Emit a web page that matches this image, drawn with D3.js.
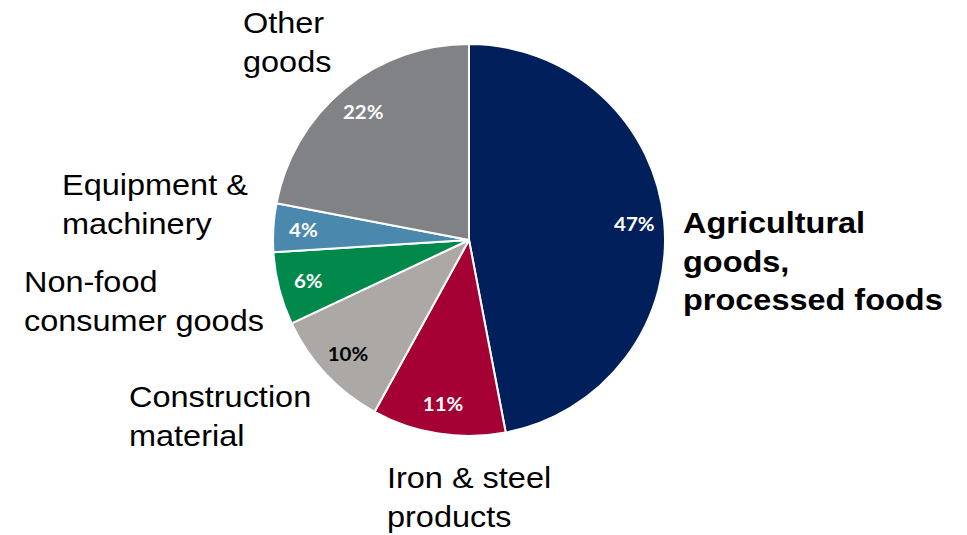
<!DOCTYPE html>
<html>
<head>
<meta charset="utf-8">
<script src="https://cdn.jsdelivr.net/npm/d3@7"></script>
<style>
  html, body { margin: 0; padding: 0; background: #fff; }
</style>
</head>
<body>
<div id="main-container"></div>
<script>
const WIDTH = 967
const HEIGHT = 535
const CX = 469
const CY = 240
const RADIUS = 196
const LABEL_RADIUS = 166
const LINE_HEIGHT = 38.7
const STRETCH = 1.12

// Data (clockwise from 12 o'clock)
const CATEGORIES = [
    'Agricultural goods, processed foods',
    'Iron & steel products',
    'Construction material',
    'Non-food consumer goods',
    'Equipment & machinery',
    'Other goods'
]
const SHARES = [47, 11, 10, 6, 4, 22]
const LABEL_LINES = [
    ['Agricultural', 'goods,', 'processed foods'],
    ['Iron & steel', 'products'],
    ['Construction', 'material'],
    ['Non-food', 'consumer goods'],
    ['Equipment &', 'machinery'],
    ['Other', 'goods']
]
const COLORS = ['#001f5b', '#a50034', '#aba8a6', '#00894a', '#4a88ad', '#808285']
const PCT_COLORS = ['#fff', '#fff', '#000', '#fff', '#fff', '#fff']

// category label anchors (left x, first baseline)
const LABEL_POS = [[683, 233], [387, 488], [129, 407], [24, 292], [62, 195], [243, 33]]

const data = CATEGORIES.map((c, i) => ({
    name: c, value: SHARES[i], lines: LABEL_LINES[i],
    color: COLORS[i], pctColor: PCT_COLORS[i], pos: LABEL_POS[i]
}))

const SVG = d3.select('#main-container')
    .append('svg')
    .attr('width', WIDTH)
    .attr('height', HEIGHT)

const pie = d3.pie().value(d => d.value).sort(null)
const arc = d3.arc().innerRadius(0).outerRadius(RADIUS)
const labelArc = d3.arc().innerRadius(LABEL_RADIUS).outerRadius(LABEL_RADIUS)
const arcs = pie(data)

const G = SVG.append('g').attr('transform', `translate(${CX}, ${CY})`)

G.selectAll('path')
    .data(arcs)
    .enter()
    .append('path')
    .attr('d', arc)
    .attr('fill', d => d.data.color)
    .attr('stroke', '#fff')
    .attr('stroke-width', 2)
    .attr('stroke-linejoin', 'round')

// percentage labels
G.selectAll('text.pct')
    .data(arcs)
    .enter()
    .append('text')
    .attr('class', 'pct')
    .attr('transform', d => {
        const [x, y] = labelArc.centroid(d)
        return `translate(${x}, ${y}) scale(1.05, 1)`
    })
    .attr('text-anchor', 'middle')
    .attr('dy', '0.36em')
    .style('font-family', 'Lato, "Open Sans", sans-serif')
    .style('font-weight', 'bold')
    .style('font-size', '19.5px')
    .attr('fill', d => d.data.pctColor)
    .text(d => `${d.data.value}%`)

// category labels
const LABELS = SVG.selectAll('g.cat')
    .data(data)
    .enter()
    .append('g')
    .attr('class', 'cat')
    .attr('transform', d => `translate(${d.pos[0]}, ${d.pos[1]}) scale(${STRETCH}, 1)`)

LABELS.append('text')
    .style('font-family', '"Liberation Sans", Arial, sans-serif')
    .style('font-size', '29px')
    .style('font-weight', (d, i) => i === 0 ? 'bold' : 'normal')
    .attr('fill', '#000')
    .selectAll('tspan')
    .data(d => d.lines)
    .enter()
    .append('tspan')
    .attr('x', 0)
    .attr('y', (_, i) => i * LINE_HEIGHT)
    .text(d => d)
</script>
</body>
</html>
